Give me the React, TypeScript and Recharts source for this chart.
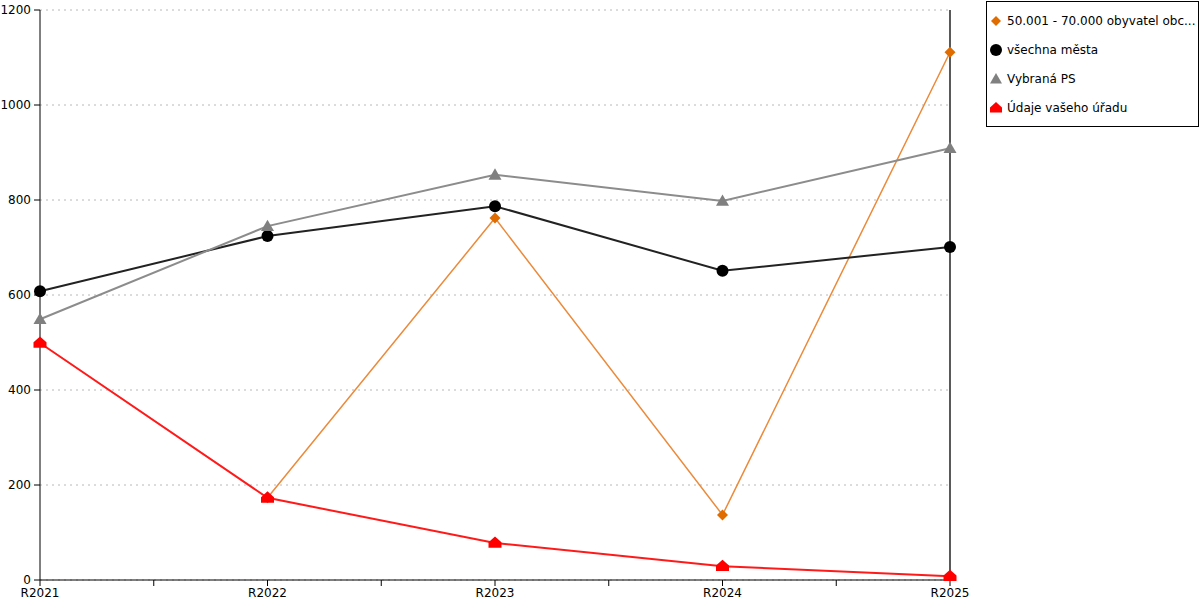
import React from 'react';
import { LineChart, Line, XAxis, YAxis, CartesianGrid, ReferenceLine } from 'recharts';

const categories = ['R2021', 'R2022', 'R2023', 'R2024', 'R2025'];
const seriesNames = ['50.001 - 70.000 obyvatel obc...', 'všechna města', 'Vybraná PS', 'Údaje vašeho úřadu'];
const groupValues: (number | null)[] = [null, 173, 762, 137, 1111];
const allCities = [608, 724, 787, 651, 701];
const selectedPS = [549, 745, 853, 798, 909];
const yourOffice = [499, 173, 78, 29, 8];
const yTicks = [0, 200, 400, 600, 800, 1000, 1200];
const xTicks = [0, 0.5, 1, 1.5, 2, 2.5, 3, 3.5, 4];

const data = categories.map((c, i) => ({
  x: i,
  a: groupValues[i],
  b: allCities[i],
  c: selectedPS[i],
  d: yourOffice[i],
}));

const FONT = '"DejaVu Sans", Verdana, sans-serif';

const Diamond = ({ cx, cy, fill, s = 5.5 }: any) =>
  cx == null || cy == null ? null : (
    <path d={`M${cx},${cy - s} L${cx + s},${cy} L${cx},${cy + s} L${cx - s},${cy} Z`} fill={fill} />
  );
const Circle = ({ cx, cy, fill, r = 6 }: any) =>
  cx == null || cy == null ? null : <circle cx={cx} cy={cy} r={r} fill={fill} />;
const Triangle = ({ cx, cy, fill, s = 6.5 }: any) =>
  cx == null || cy == null ? null : (
    <path d={`M${cx},${cy - s} L${cx + s},${cy + s * 0.75} L${cx - s},${cy + s * 0.75} Z`} fill={fill} />
  );
const House = ({ cx, cy, fill, s = 6.5 }: any) =>
  cx == null || cy == null ? null : (
    <path
      d={`M${cx},${cy - s} L${cx + s},${cy - s * 0.1} L${cx + s},${cy + s * 0.75} L${cx - s},${cy + s * 0.75} L${cx - s},${cy - s * 0.1} Z`}
      fill={fill}
    />
  );

const markerColors = ['#e06c00', '#000000', '#808080', '#ff0000'];
const markers = [Diamond, Circle, Triangle, House];

const LegendBox = () => (
  <div
    style={{
      position: 'absolute',
      left: 986,
      top: 1,
      border: '1px solid #000',
      width: 213,
      height: 126,
      boxSizing: 'border-box',
      background: '#fff',
      fontFamily: FONT,
      fontSize: 12,
      color: '#000',
      paddingTop: 4,
    }}
  >
    {seriesNames.map((n, i) => {
      const M = markers[i];
      return (
        <div key={n} style={{ display: 'flex', alignItems: 'center', height: 29, paddingLeft: 2 }}>
          <svg width={14} height={14} style={{ marginRight: 4 }}>
            <M cx={7} cy={7} fill={markerColors[i]} s={i === 0 ? 5 : 6} r={6} />
          </svg>
          <span style={{ whiteSpace: 'nowrap' }}>{n}</span>
        </div>
      );
    })}
  </div>
);

export default function App() {
  return (
    <div style={{ position: 'absolute', left: 0, top: 0, width: 1200, height: 600, background: '#fff' }}>
      <LineChart width={1200} height={600} data={data} margin={{ top: 10, right: 250, bottom: 0, left: 0 }}>
        <CartesianGrid horizontal vertical={false} stroke="#b8b8b8" strokeDasharray="2 4" />
        <XAxis
          dataKey="x"
          type="number"
          domain={[0, 4]}
          ticks={xTicks}
          interval={0}
          height={20}
          tickFormatter={(v: number) => (Number.isInteger(v) ? categories[v] : '')}
          axisLine={{ stroke: '#000' }}
          tickLine={{ stroke: '#000' }}
          tickSize={6}
          tickMargin={2}
          tick={{ fill: '#000', fontSize: 12, fontFamily: FONT }}
        />
        <YAxis
          width={40}
          domain={[0, 1200]}
          ticks={yTicks}
          interval={0}
          axisLine={{ stroke: '#000' }}
          tickLine={{ stroke: '#000' }}
          tickSize={6}
          tickMargin={3}
          tick={{ fill: '#000', fontSize: 12, fontFamily: FONT }}
        />
        <ReferenceLine x={4} stroke="#000" strokeWidth={1.3} strokeOpacity={1} ifOverflow="visible" />
        <Line
          dataKey="a"
          stroke="#ec8a3a"
          strokeWidth={1.5}
          isAnimationActive={false}
          connectNulls={false}
          dot={(p: any) => <Diamond key={`a${p.index}`} cx={p.cx} cy={p.cy} fill={markerColors[0]} />}
          activeDot={false}
        />
        <Line
          dataKey="b"
          stroke="#222222"
          strokeWidth={2}
          isAnimationActive={false}
          dot={(p: any) => <Circle key={`b${p.index}`} cx={p.cx} cy={p.cy} fill={markerColors[1]} />}
          activeDot={false}
        />
        <Line
          dataKey="c"
          stroke="#8c8c8c"
          strokeWidth={2}
          isAnimationActive={false}
          dot={(p: any) => <Triangle key={`c${p.index}`} cx={p.cx} cy={p.cy} fill={markerColors[2]} />}
          activeDot={false}
        />
        <Line
          dataKey="d"
          stroke="#ff1a1a"
          strokeWidth={2}
          isAnimationActive={false}
          dot={(p: any) => <House key={`d${p.index}`} cx={p.cx} cy={p.cy} fill={markerColors[3]} />}
          activeDot={false}
        />
      </LineChart>
      <LegendBox />
    </div>
  );
}
